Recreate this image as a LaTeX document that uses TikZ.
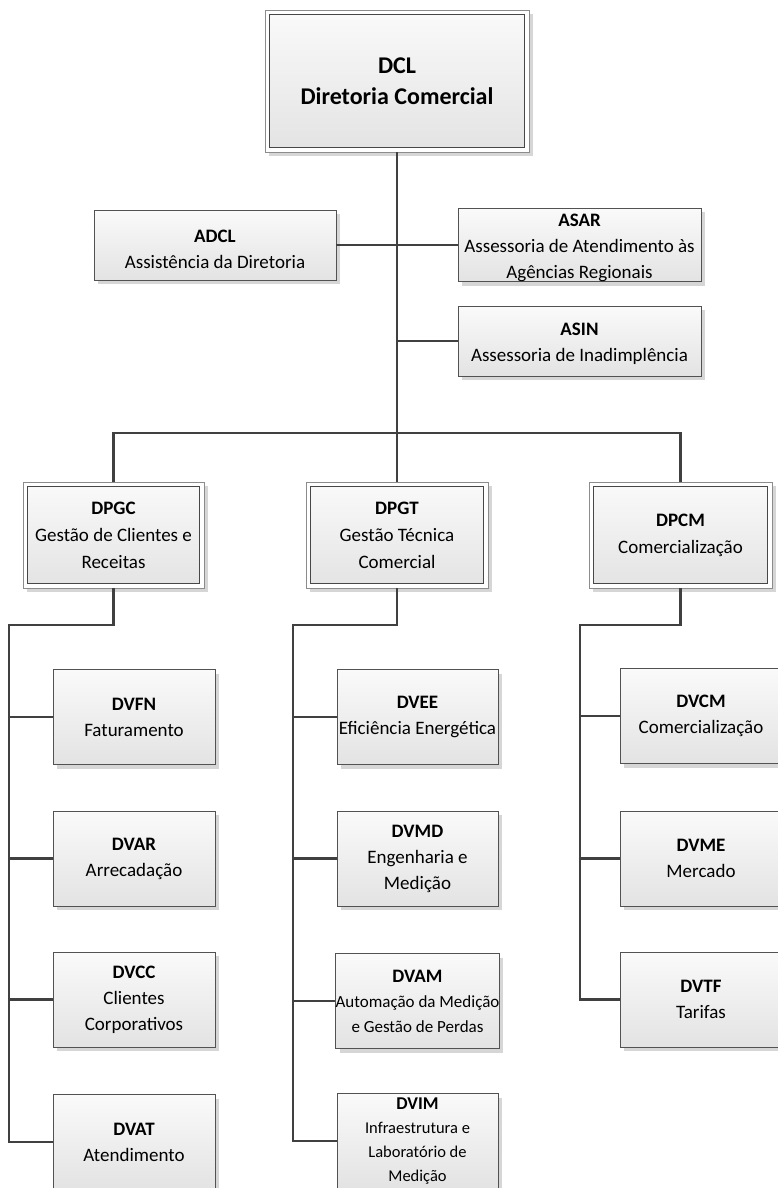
\documentclass[tikz,border=0pt]{standalone}
\usepackage{fontspec}
\setmainfont{Carlito}
\usetikzlibrary{shadows,calc}

\tikzset{
  boxfill/.style={top color=black!2, bottom color=black!11},
  boxshadow/.style={drop shadow={shadow xshift=4pt, shadow yshift=-4pt, fill=black!16, opacity=1}},
  unit/.style={draw=black!68, line width=0.9pt, boxfill, boxshadow,
    inner sep=0pt, align=center, font=\fontsize{19}{26}\selectfont},
  dept/.style={unit, minimum width=162pt, minimum height=95pt},
  assess/.style={unit, minimum width=242pt, minimum height=70pt},
  manager/.style={draw=black!45, line width=0.8pt, fill=white, boxshadow,
    inner sep=0pt, align=center, font=\fontsize{19}{27}\selectfont,
    path picture={
      \draw[draw=black!72, line width=0.9pt, boxfill]
        ([shift={(4.5pt,-4.5pt)}]path picture bounding box.north west) rectangle
        ([shift={(-4.5pt,4.5pt)}]path picture bounding box.south east);
    }},
  link/.style={draw=black!75, line width=2.7pt},
}

\begin{document}
\begin{tikzpicture}[x=1pt, y=-1pt]
  \useasboundingbox (0,0) rectangle (777,1188);

  % Board
  \node[manager, minimum width=264pt, minimum height=142pt,
        font=\fontsize{24}{31}\selectfont\bfseries] (dcl) at (397,81)
        {DCL\\Diretoria Comercial};

  % Advisory units (struts push the text a little lower in the box)
  \node[assess] (adcl) at (215,245)
        {\rule{0pt}{22pt}\textbf{ADCL}\\Assistência da Diretoria};
  \node[assess, minimum width=243pt, minimum height=71pt] (asar) at (579.5,245)
        {\rule{0pt}{18pt}\textbf{ASAR}\\Assessoria de Atendimento às\\Agências Regionais};
  \node[assess, minimum width=243pt] (asin) at (579.5,341)
        {\rule{0pt}{19pt}\textbf{ASIN}\\Assessoria de Inadimplência};

  % Departments
  \node[manager, minimum width=181pt, minimum height=106pt] (dpgc) at (113.5,535)
        {\textbf{DPGC}\\Gestão de Clientes e\\Receitas};
  \node[manager, minimum width=182pt, minimum height=106pt] (dpgt) at (397,535)
        {\textbf{DPGT}\\Gestão Técnica\\Comercial};
  \node[manager, minimum width=183pt, minimum height=106pt] (dpcm) at (680.5,535)
        {\textbf{DPCM}\\Comercialização};

  % Divisions under DPGC
  \node[dept] (dvfn) at (134,717)   {\textbf{DVFN}\\Faturamento};
  \node[dept] (dvar) at (134,858.5) {\textbf{DVAR}\\Arrecadação};
  \node[dept] (dvcc) at (134,999.5) {\textbf{DVCC}\\Clientes\\Corporativos};
  \node[dept] (dvat) at (134,1142)  {\textbf{DVAT}\\Atendimento};

  % Divisions under DPGT
  \node[dept, minimum width=161pt] (dvee) at (417.5,717)
        {\textbf{DVEE}\\Eficiência Energética};
  \node[dept, minimum width=161pt] (dvmd) at (417.5,858.5)
        {\textbf{DVMD}\\Engenharia e\\Medição};
  \node[dept, minimum width=161pt, font=\fontsize{17}{25}\selectfont] (dvam) at (417.5,1001)
        {{\fontsize{19}{25}\selectfont\textbf{DVAM}}\\Automação da Medição\\e Gestão de Perdas};
  \node[dept, minimum width=161pt, font=\fontsize{16.5}{24}\selectfont] (dvim) at (417.5,1141)
        {{\fontsize{18}{24}\selectfont\textbf{DVIM}}\\Infraestrutura e\\Laboratório de\\Medição};

  % Divisions under DPCM
  \node[dept] (dvcm) at (701,716)    {\textbf{DVCM}\\Comercialização};
  \node[dept] (dvme) at (701,858.5)  {\textbf{DVME}\\Mercado};
  \node[dept] (dvtf) at (701,999.5)  {\textbf{DVTF}\\Tarifas};

  % Junction points of the connector lines
  \coordinate (bus) at (397,433);
  \coordinate (lc) at (9,625);
  \coordinate (mc) at (293,625);
  \coordinate (rc) at (580,625);

  % Connectors
  \draw[link] (dcl.south) -- (dpgt.north);
  \draw[link] (adcl.east) -- (asar.west);
  \draw[link] (asin.west) -- (asin.west -| dcl.south);
  \draw[link] (dpgc.north) |- (bus) -| (dpcm.north);

  \draw[link] (dpgc.south) |- (lc) |- (dvat.west);
  \draw[link] (dvfn.west) -- (dvfn.west -| lc);
  \draw[link] (dvar.west) -- (dvar.west -| lc);
  \draw[link] (dvcc.west) -- (dvcc.west -| lc);

  \draw[link] (dpgt.south) |- (mc) |- (dvim.west);
  \draw[link] (dvee.west) -- (dvee.west -| mc);
  \draw[link] (dvmd.west) -- (dvmd.west -| mc);
  \draw[link] (dvam.west) -- (dvam.west -| mc);

  \draw[link] (dpcm.south) |- (rc) |- (dvtf.west);
  \draw[link] (dvcm.west) -- (dvcm.west -| rc);
  \draw[link] (dvme.west) -- (dvme.west -| rc);
\end{tikzpicture}
\end{document}
